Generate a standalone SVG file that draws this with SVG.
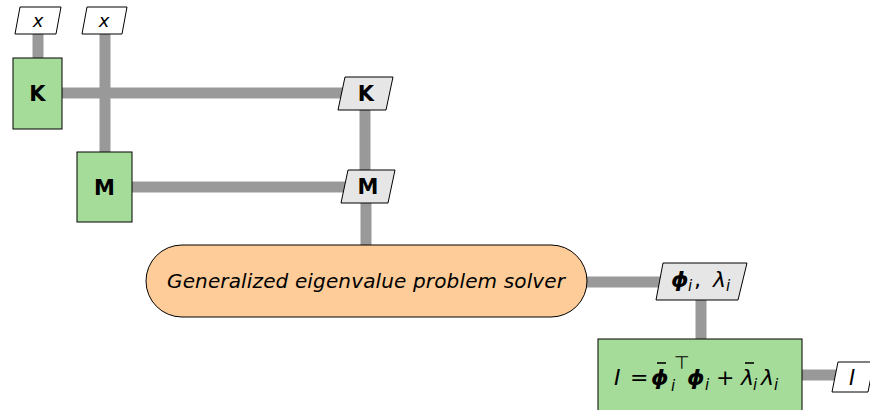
<svg xmlns="http://www.w3.org/2000/svg" width="870" height="410" viewBox="0 0 870 410">
<style>
.c{stroke:#999999;stroke-width:11;fill:none}
.io{fill:#ffffff;stroke:#000;stroke-width:1}
.gp{fill:#e6e6e6;stroke:#000;stroke-width:1}
.gb{fill:#a5dc9a;stroke:#000;stroke-width:1}
.pill{fill:#fdcc98;stroke:#000;stroke-width:1}
.t{font-family:"DejaVu Sans","Liberation Sans",sans-serif;fill:#000}
.b{font-weight:bold;font-size:21px}
.i{font-style:italic}
.bi{font-weight:bold;font-style:italic}
.bar{stroke:#000;stroke-width:1.6}
</style>
<rect width="870" height="410" fill="#fff"/>
<g id="connectors">
<line class="c" x1="38" y1="33" x2="38" y2="58"/>
<line class="c" x1="105" y1="33" x2="105" y2="153"/>
<line class="c" x1="62" y1="93" x2="346" y2="93"/>
<line class="c" x1="365" y1="110" x2="365" y2="171"/>
<line class="c" x1="132" y1="187" x2="346" y2="187"/>
<line class="c" x1="366" y1="202" x2="366" y2="246"/>
<line class="c" x1="586" y1="282" x2="662" y2="282"/>
<line class="c" x1="701" y1="299" x2="701" y2="340"/>
<line class="c" x1="802" y1="375" x2="836" y2="375"/>
</g>
<g id="x1">
<polygon class="io" points="20,7 61,7 56,34 15,34"/>
<text class="t i" x="38" y="27" font-size="18" text-anchor="middle">x</text>
</g>
<g id="x2">
<polygon class="io" points="87,7 127,7 122,34 82,34"/>
<text class="t i" x="104" y="27" font-size="18" text-anchor="middle">x</text>
</g>
<g id="Kbox">
<rect class="gb" x="13" y="58" width="49" height="71"/>
<text class="t b" x="37.5" y="101" text-anchor="middle">K</text>
</g>
<g id="Mbox">
<rect class="gb" x="77" y="152" width="55" height="70"/>
<text class="t b" x="104.5" y="195" text-anchor="middle">M</text>
</g>
<g id="Kin">
<polygon class="gp" points="345,77 393,77 386,110 338,110"/>
<text class="t b" x="366" y="101" text-anchor="middle">K</text>
</g>
<g id="Min">
<polygon class="gp" points="348,170 395,170 388,203 341,203"/>
<text class="t b" x="368" y="194" text-anchor="middle">M</text>
</g>
<g id="solver">
<rect class="pill" x="146" y="245" width="441" height="72" rx="36" ry="36"/>
<text class="t i" x="167" y="288" font-size="20" textLength="398" lengthAdjust="spacing">Generalized eigenvalue problem solver</text>
</g>
<g id="phi">
<polygon class="gp" points="663,263 747,263 738,300 656,300"/>
<text class="t" y="287" font-size="22"><tspan class="bi" x="671">ϕ</tspan><tspan class="i" font-size="15" x="688" y="291">i</tspan><tspan x="694" y="287">,</tspan><tspan class="i" x="713">λ</tspan><tspan class="i" font-size="15" x="726" y="291">i</tspan></text>
</g>
<g id="Ibox">
<rect class="gb" x="598" y="339" width="204" height="74"/>
<text class="t" y="385" font-size="22"><tspan class="i" x="614">I</tspan><tspan x="630">=</tspan><tspan class="bi" x="651">ϕ</tspan><tspan class="i" font-size="15" x="671" y="391">i</tspan><tspan font-size="18" x="674" y="369">⊤</tspan><tspan class="bi" x="687" y="385">ϕ</tspan><tspan class="i" font-size="15" x="705" y="390">i</tspan><tspan x="716" y="385">+</tspan><tspan class="i" x="741">λ</tspan><tspan class="i" font-size="15" x="753" y="390">i</tspan><tspan class="i" x="761" y="385">λ</tspan><tspan class="i" font-size="15" x="774" y="390">i</tspan></text>
<line class="bar" x1="657" y1="363" x2="666" y2="363"/>
<line class="bar" x1="745" y1="363" x2="754" y2="363"/>
</g>
<g id="Iout">
<polygon class="io" points="838,362 874,362 868,392 832,392"/>
<text class="t i" x="852" y="385" font-size="21" text-anchor="middle">I</text>
</g>
</svg>
